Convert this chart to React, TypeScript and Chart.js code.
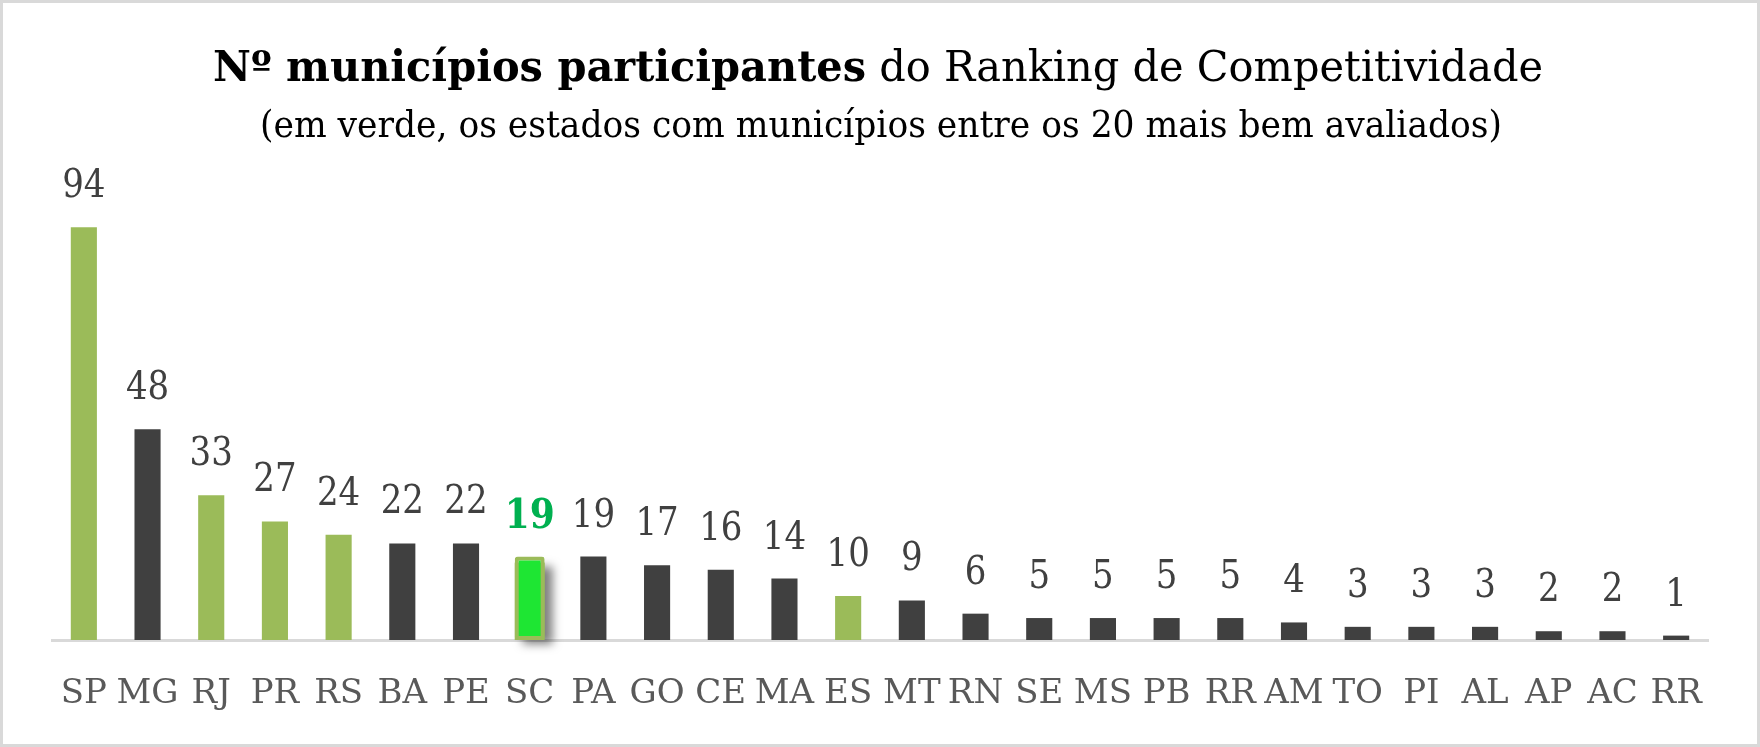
import React, { useEffect, useRef } from "react";
import { Chart, registerables } from "chart.js";

Chart.register(...registerables);

const categories = ["SP", "MG", "RJ", "PR", "RS", "BA", "PE", "SC", "PA", "GO", "CE", "MA", "ES", "MT", "RN", "SE", "MS", "PB", "RR", "AM", "TO", "PI", "AL", "AP", "AC", "RR"];
const values = [94, 48, 33, 27, 24, 22, 22, 19, 19, 17, 16, 14, 10, 9, 6, 5, 5, 5, 5, 4, 3, 3, 3, 2, 2, 1];
const greenIndexes = [0, 2, 3, 4, 12];
const highlightIndex = 7;
const titleBold = "Nº municípios participantes";
const titleRest = " do Ranking de Competitividade";
const subtitle = "(em verde, os estados com municípios entre os 20 mais bem avaliados)";

const FONT = "'DejaVu Serif', serif";
const DARK = "#404040";
const GREEN = "#9bbb59";
const SC_FILL = "#1ee633";
const SC_LABEL = "#00b050";

type Part = { text: string; font: string; color: string };

function drawFitted(ctx: CanvasRenderingContext2D, parts: Part[], cx: number, baseline: number, targetWidth: number) {
  ctx.save();
  ctx.textBaseline = "alphabetic";
  ctx.textAlign = "left";
  let total = 0;
  const widths = parts.map((p) => {
    ctx.font = p.font;
    const w = ctx.measureText(p.text).width;
    total += w;
    return w;
  });
  const sx = targetWidth / total;
  ctx.translate(cx, baseline);
  ctx.scale(sx, 1);
  let x = -total / 2;
  parts.forEach((p, i) => {
    ctx.font = p.font;
    ctx.fillStyle = p.color;
    ctx.fillText(p.text, x, 0);
    x += widths[i];
  });
  ctx.restore();
}

function drawScaled(ctx: CanvasRenderingContext2D, text: string, x: number, baseline: number, font: string, color: string, sy: number) {
  ctx.save();
  ctx.translate(x, baseline);
  ctx.scale(1, sy);
  ctx.font = font;
  ctx.fillStyle = color;
  ctx.textAlign = "center";
  ctx.textBaseline = "alphabetic";
  ctx.fillText(text, 0, 0);
  ctx.restore();
}

const decorPlugin = {
  id: "decor",
  beforeDatasetsDraw(chart: any) {
    const meta = chart.getDatasetMeta(1);
    const el = meta.data[highlightIndex];
    if (!el) return;
    const { x, y, base, width } = el.getProps(["x", "y", "base", "width"], true);
    const ctx = chart.ctx as CanvasRenderingContext2D;
    ctx.save();
    ctx.shadowColor = "rgba(0,0,0,0.5)";
    ctx.shadowBlur = 10;
    ctx.shadowOffsetX = 8;
    ctx.shadowOffsetY = 4;
    ctx.fillStyle = GREEN;
    ctx.fillRect(x - width / 2, y + 6, width, base - y - 6);
    ctx.restore();
  },
  afterDatasetsDraw(chart: any) {
    const ctx = chart.ctx as CanvasRenderingContext2D;
    const meta0 = chart.getDatasetMeta(0);
    const meta1 = chart.getDatasetMeta(1);
    values.forEach((v, i) => {
      if (i === highlightIndex) {
        const el = meta1.data[i];
        drawScaled(ctx, String(v), el.x, el.y - 29, `bold 36px ${FONT}`, SC_LABEL, 1.12);
      } else {
        const el = meta0.data[i];
        drawScaled(ctx, String(v), el.x, el.y - 30, `34px ${FONT}`, DARK, 1.15);
      }
    });
  },
  afterDraw(chart: any) {
    const ctx = chart.ctx as CanvasRenderingContext2D;
    const w = chart.width;
    const h = chart.height;
    drawFitted(
      ctx,
      [
        { text: titleBold, font: `bold 42px ${FONT}`, color: "#000000" },
        { text: titleRest, font: `42px ${FONT}`, color: "#000000" },
      ],
      w / 2 - 2,
      81,
      1330
    );
    drawFitted(ctx, [{ text: subtitle, font: `38px ${FONT}`, color: "#000000" }], w / 2 + 1, 137, 1242);
    ctx.save();
    ctx.strokeStyle = "#d9d9d9";
    ctx.lineWidth = 3;
    ctx.strokeRect(1.5, 1.5, w - 3, h - 3);
    ctx.restore();
  },
};

export default function App() {
  const ref = useRef<HTMLCanvasElement>(null);
  useEffect(() => {
    document.body.style.margin = "0";
    document.body.style.overflow = "hidden";
    const chart = new Chart(ref.current as HTMLCanvasElement, {
      type: "bar",
      data: {
        labels: categories,
        datasets: [
          {
            data: values,
            backgroundColor: values.map((_, i) =>
              i === highlightIndex ? "rgba(0,0,0,0)" : greenIndexes.includes(i) ? GREEN : DARK
            ),
            barPercentage: 0.41,
            categoryPercentage: 1,
            grouped: false,
            order: 1,
          },
          {
            data: values.map((v, i) => (i === highlightIndex ? v : null)),
            backgroundColor: SC_FILL,
            borderColor: GREEN,
            borderWidth: 4,
            borderRadius: 3,
            borderSkipped: false,
            barPercentage: 0.47,
            categoryPercentage: 1,
            grouped: false,
            order: 0,
          },
        ],
      },
      options: {
        responsive: false,
        animation: false,
        layout: { padding: { top: 201, left: 52, right: 52, bottom: 0 } },
        plugins: {
          legend: { display: false },
          tooltip: { enabled: false },
          title: { display: false },
        },
        scales: {
          x: {
            grid: { display: false, drawTicks: false },
            border: { display: true, color: "#d9d9d9", width: 3 },
            ticks: {
              color: "#595959",
              font: { family: FONT, size: 34 },
              padding: 34,
              autoSkip: false,
              maxRotation: 0,
            },
            afterFit: (s: any) => {
              s.height = 107;
            },
          },
          y: { display: false, min: 0, max: 100 },
        },
      },
      plugins: [decorPlugin],
    } as any);
    return () => chart.destroy();
  }, []);
  return (
    <div style={{ width: 1760, height: 747, background: "#ffffff" }}>
      <canvas ref={ref} width={1760} height={747} style={{ display: "block" }} />
    </div>
  );
}
